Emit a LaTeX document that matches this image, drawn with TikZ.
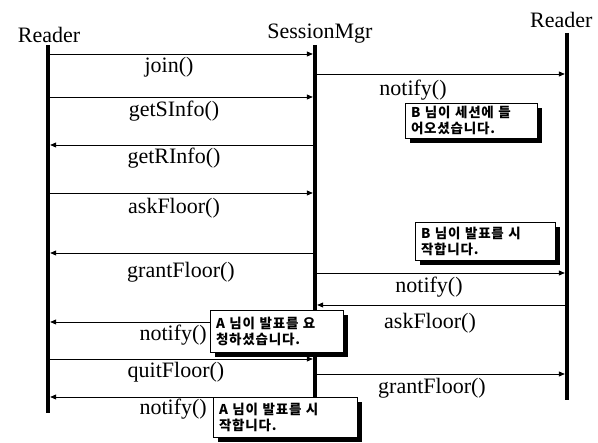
\documentclass[tikz,border=0pt]{standalone}
\usepackage{fontspec}
\setmainfont{Liberation Serif}
\newfontfamily\kr{Noto Sans CJK KR}[LetterSpace=6]
\usetikzlibrary{arrows.meta,shadows}
\begin{document}
\begin{tikzpicture}[x=1pt,y=-1pt,
  lifeline/.style={line width=4.5pt},
  msg/.style={line width=0.8pt,-{Triangle[length=6pt,width=5pt]},shorten >=2.2pt,shorten <=2.2pt},
  lbl/.style={font=\fontsize{22}{24}\selectfont,inner sep=0pt},
  head/.style={font=\fontsize{22}{24}\selectfont,inner sep=0pt},
  note/.style={draw,line width=0.8pt,fill=white,inner sep=0pt,align=left,
    font=\kr\bfseries\fontsize{13.5}{16}\selectfont,
    drop shadow={shadow xshift=5pt,shadow yshift=-5pt,fill=black,opacity=1}}
]
\useasboundingbox (0,0) rectangle (598,443);
% headers
\node[head] (hL) at (49,35) {Reader};
\node[head] (hS) at (320,34) {SessionMgr};
\node[head,anchor=west] (hR) at (530,20) {Reader};
% lifelines
\coordinate (Lt) at (48,45); \coordinate (Lb) at (48,413);
\coordinate (St) at (315,45); \coordinate (Sb) at (315,412);
\coordinate (Rt) at (567,33); \coordinate (Rb) at (567,400);
\draw[lifeline] (Lt) -- (Lb);
\draw[lifeline] (St) -- (Sb);
\draw[lifeline] (Rt) -- (Rb);
% message anchor points
\foreach \n/\y in {1/54,2/97,3/145,4/193,5/253,6/74,7/273,8/305,9/322,10/359,11/374,12/397}{
  \coordinate (L\n) at (48,\y);
  \coordinate (S\n) at (315,\y);
  \coordinate (R\n) at (567,\y);
}
\draw[msg] (L1) -- (S1);
\draw[msg] (L2) -- (S2);
\draw[msg] (S3) -- (L3);
\draw[msg] (L4) -- (S4);
\draw[msg] (S5) -- (L5);
\draw[msg] (S6) -- (R6);
\draw[msg] (S7) -- (R7);
\draw[msg] (R8) -- (S8);
\draw[msg] (S9) -- (L9);
\draw[msg] (L10) -- (S10);
\draw[msg] (S11) -- (R11);
\draw[msg] (S12) -- (L12);
% labels
\node[lbl] (t1) at (169,67) {join()};
\node[lbl] (t2) at (174,111) {getSInfo()};
\node[lbl] (t3) at (174,158) {getRInfo()};
\node[lbl] (t4) at (174,208) {askFloor()};
\node[lbl] (t5) at (181,272) {grantFloor()};
\node[lbl] (t6) at (413,90) {notify()};
\node[lbl] (t7) at (429,287) {notify()};
\node[lbl] (t8) at (430,323) {askFloor()};
\node[lbl,anchor=east] (t9) at (207,335) {notify()};
\node[lbl] (t10) at (176,372) {quitFloor()};
\node[lbl] (t11) at (432,388) {grantFloor()};
\node[lbl,anchor=east] (t12) at (207,409) {notify()};
% notes
\node[note,minimum width=132pt,minimum height=35pt,text width=120pt] (b1) at (471,120.5) {B 님이 세션에 들\\어오셨습니다.};
\node[note,minimum width=140pt,minimum height=38pt,text width=128pt] (b2) at (485,241) {B 님이 발표를 시\\작합니다.};
\node[note,minimum width=133pt,minimum height=42pt,text width=121pt] (b3) at (276.5,331) {A 님이 발표를 요\\청하셨습니다.};
\node[note,minimum width=144pt,minimum height=40pt,text width=132pt] (b4) at (285,417) {A 님이 발표를 시\\작합니다.};
\end{tikzpicture}
\end{document}
